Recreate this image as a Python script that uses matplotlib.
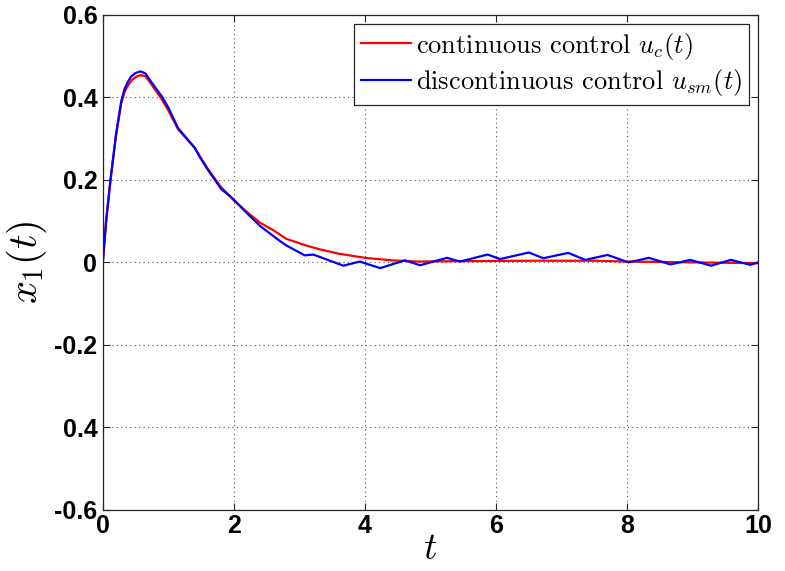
import numpy as np
import matplotlib
matplotlib.use('Agg')
import matplotlib.pyplot as plt

# continuous control response
t_c = [0, 0.05, 0.117, 0.2, 0.28, 0.33, 0.38, 0.45, 0.52, 0.58, 0.65, 0.74,
       0.9, 1.0, 1.15, 1.4, 1.6, 1.8, 2.0, 2.2, 2.4, 2.6, 2.8, 3.1, 3.3,
       3.6, 4.0, 4.4, 4.8, 5.5, 6.5, 7.5, 8.0, 9.0, 10.0]
x_c = [0, 0.10, 0.2, 0.305, 0.385, 0.412, 0.428, 0.443, 0.451, 0.454, 0.451,
       0.432, 0.395, 0.368, 0.322, 0.278, 0.227, 0.183, 0.150, 0.122, 0.096,
       0.078, 0.057, 0.041, 0.032, 0.021, 0.011, 0.005, 0.002, 0.003, 0.004,
       0.004, 0.002, 0.0, -0.002]

# sliding mode (discontinuous) control response
t_sm = [0, 0.05, 0.117, 0.2, 0.28, 0.33, 0.38, 0.43, 0.5, 0.575, 0.65, 0.74,
        0.91, 1.0, 1.145, 1.4, 1.48, 1.6, 1.81, 1.96, 2.2, 2.4, 2.7, 2.8,
        3.08, 3.21, 3.67, 3.92, 4.23, 4.61, 4.84, 5.25, 5.45, 5.87, 6.06,
        6.50, 6.72, 7.10, 7.36, 7.70, 8.02, 8.33, 8.66, 8.96, 9.28, 9.58,
        9.88, 10.0]
x_sm = [0, 0.10, 0.2, 0.31, 0.39, 0.42, 0.437, 0.450, 0.459, 0.463, 0.458,
        0.437, 0.40, 0.375, 0.326, 0.278, 0.255, 0.225, 0.177, 0.158, 0.119,
        0.088, 0.052, 0.041, 0.017, 0.019, -0.008, 0.002, -0.014, 0.005,
        -0.007, 0.011, 0.002, 0.019, 0.008, 0.024, 0.010, 0.023, 0.006,
        0.018, 0.0, 0.011, -0.005, 0.006, -0.008, 0.006, -0.006, 0.0]

x_ticks = [0, 2, 4, 6, 8, 10]
y_ticks = [-0.6, -0.4, -0.2, 0, 0.2, 0.4, 0.6]
y_tick_labels = ['-0.6', '0.4', '-0.2', '0', '0.2', '0.4', '0.6']

plt.rcParams['mathtext.fontset'] = 'cm'

fig = plt.figure(figsize=(7.85, 5.71), dpi=100)
ax = fig.add_axes([0.131, 0.107, 0.835, 0.867])

ax.plot(t_c, x_c, color='#ff0000', lw=1.6, label=r'continuous control $u_c(t)$')
ax.plot(t_sm, x_sm, color='#0000ff', lw=1.6,
        label=r'discontinuous control $u_{sm}(t)$')

ax.set_xlim(0, 10)
ax.set_ylim(-0.6, 0.6)
ax.set_xticks(x_ticks)
ax.set_xticklabels([str(v) for v in x_ticks])
ax.set_yticks(y_ticks)
ax.set_yticklabels(y_tick_labels)

for lab in ax.get_xticklabels() + ax.get_yticklabels():
    lab.set_fontfamily('Liberation Sans')
    lab.set_fontweight('bold')
    lab.set_fontsize(18)

ax.tick_params(direction='in', top=True, right=True, length=5, width=0.8,
               colors='#262626', labelcolor='black')
ax.tick_params(axis='x', pad=3)
ax.tick_params(axis='y', pad=4)
for s in ax.spines.values():
    s.set_color('#262626')
    s.set_linewidth(0.9)

ax.grid(True, color='#555555', linestyle=(0, (1, 3)), linewidth=0.8)
ax.set_axisbelow(True)

ax.set_xlabel(r'$t$', fontsize=27, labelpad=-5)
ax.set_ylabel(r'$x_1(t)$', fontsize=29, labelpad=4)

leg = ax.legend(loc='upper right', fancybox=False, framealpha=1,
                edgecolor='#262626', borderaxespad=0.35, handlelength=1.9,
                handletextpad=0.2, borderpad=0.25, labelspacing=0.2,
                prop={'family': 'cmr10', 'size': 19})
leg.get_frame().set_linewidth(0.9)

fig.savefig('out.png', dpi=100)
